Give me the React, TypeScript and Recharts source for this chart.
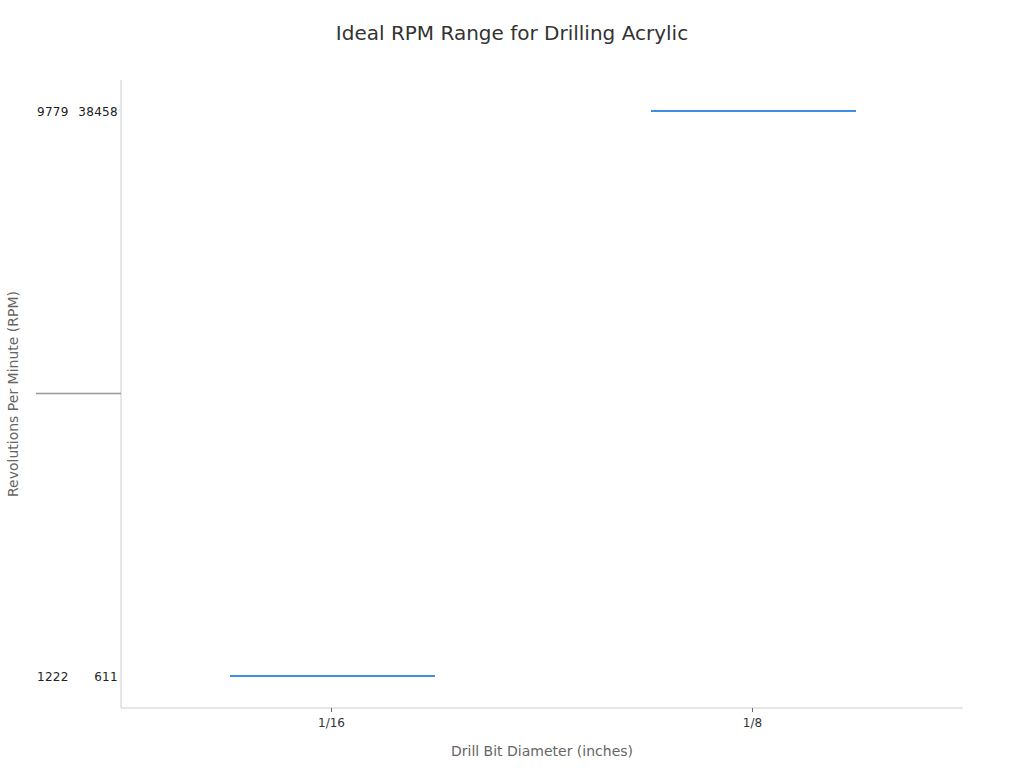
import React from 'react';
import { BarChart, Bar, XAxis, YAxis } from 'recharts';

// bit sizes and the two rpm figures shown on each row of the y axis
const diameters = ['1/16', '1/8'];
const rpmLeft = ['1222', '9779'];
const rpmRight = ['611', '38458'];
// row each range sits on (0 = bottom row, 1 = top row)
const rowLevel = [0, 1];

const data = diameters.map((d, i) => ({ diameter: d, level: rowLevel[i] }));

const FONT = '"DejaVu Sans", sans-serif';

function RowTick(props: any) {
    const { x, y, payload } = props;
    const v = payload.value;
    if (v === 0.5) {
        return <line x1={x - 82} x2={x + 3} y1={y} y2={y} stroke="#999" strokeWidth={1.5} />;
    }
    const idx = rowLevel.indexOf(v);
    if (idx < 0) return null;
    return (
        <g>
            <text x={x - 81} y={y} dy={5} textAnchor="start" fontSize={12} fill="#222" fontFamily={FONT} letterSpacing={0.3}>
                {rpmLeft[idx]}
            </text>
            <text x={x} y={y} dy={5} textAnchor="end" fontSize={12} fill="#222" fontFamily={FONT} letterSpacing={0.3}>
                {rpmRight[idx]}
            </text>
        </g>
    );
}

function RangeLine(props: any) {
    const { x, y, width } = props;
    return <line x1={x + 1} x2={x + width + 1} y1={y} y2={y} stroke="#3d8ee6" strokeWidth={2} />;
}

export default function App() {
    return (
        <div style={{ position: 'absolute', left: 0, top: 0, width: 1024, height: 768, background: '#fff', fontFamily: FONT }}>
            <div style={{ position: 'absolute', top: 21, width: 1024, textAlign: 'center', fontSize: 20, color: '#333' }}>
                Ideal RPM Range for Drilling Acrylic
            </div>
            <div style={{ position: 'absolute', top: 743, left: 121, width: 842, textAlign: 'center', fontSize: 14, color: '#666' }}>
                Drill Bit Diameter (inches)
            </div>
            <div
                style={{
                    position: 'absolute',
                    left: 13,
                    top: 394,
                    transform: 'translate(-50%, -50%) rotate(-90deg)',
                    whiteSpace: 'nowrap',
                    fontSize: 14,
                    color: '#666',
                }}
            >
                Revolutions Per Minute (RPM)
            </div>
            <BarChart
                width={1024}
                height={768}
                data={data}
                margin={{ top: 80, right: 61, bottom: 30, left: 36 }}
                style={{ position: 'absolute', left: 0, top: 0 }}
            >
                <XAxis
                    dataKey="diameter"
                    height={30}
                    axisLine={{ stroke: '#ccc' }}
                    tickLine={{ stroke: '#666' }}
                    tickSize={4}
                    tickMargin={6}
                    tick={{ fontSize: 12, fill: '#333', fontFamily: FONT }}
                />
                <YAxis
                    type="number"
                    width={85}
                    domain={[-0.0566, 1.0549]}
                    ticks={[0, 0.5, 1]}
                    axisLine={{ stroke: '#ccc' }}
                    tickLine={false}
                    tickSize={0}
                    tickMargin={3}
                    tick={<RowTick />}
                    allowDataOverflow
                />
                <Bar dataKey="level" barSize={205} shape={<RangeLine />} isAnimationActive={false} />
            </BarChart>
        </div>
    );
}
